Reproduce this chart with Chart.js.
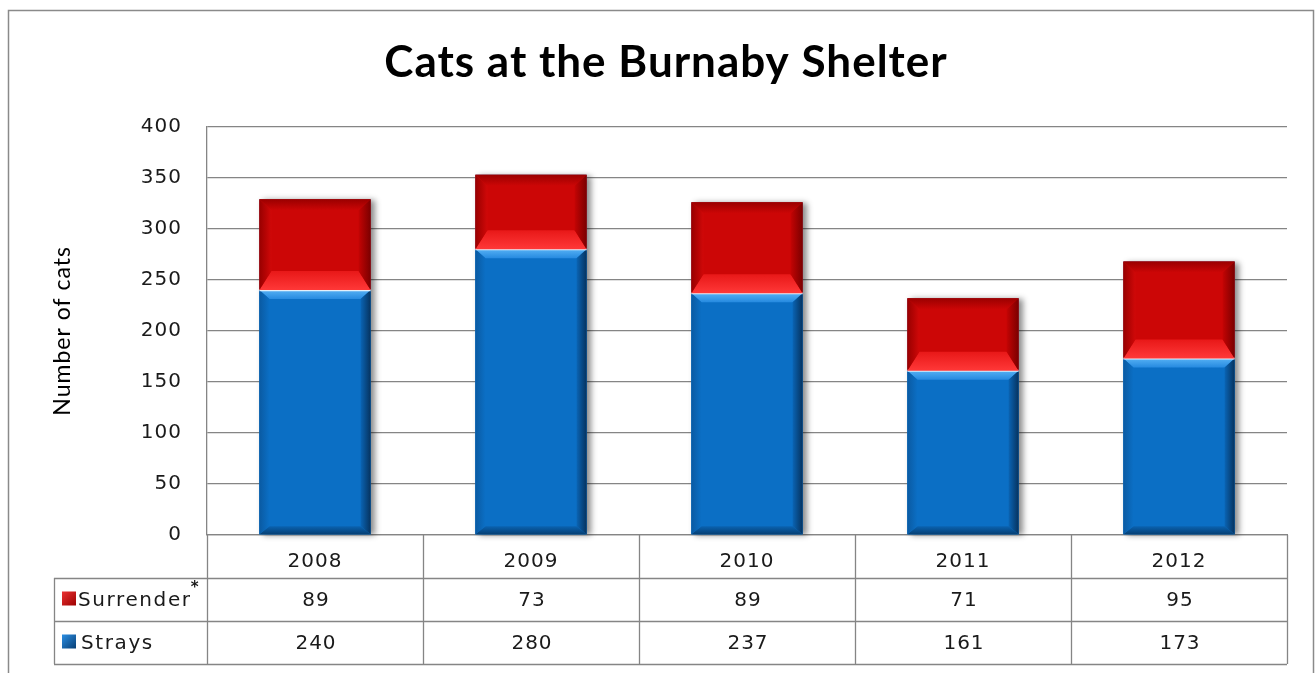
<!DOCTYPE html>
<html><head><meta charset="utf-8">
<script src="https://cdn.jsdelivr.net/npm/chart.js@4"></script>
<style>html,body{margin:0;padding:0;background:#fff;}#wrap{width:1316px;height:673px;position:relative;}</style>
</head><body><div id="wrap"><canvas id="c"></canvas></div>
<script>
const categories = ['2008', '2009', '2010', '2011', '2012'];
const strays = [240, 280, 237, 161, 173];
const surrender = [89, 73, 89, 71, 95];
const tableRows = ['Surrender', 'Strays'];
const titleText = 'Cats at the Burnaby Shelter';
const yTitle = 'Number of cats';
const yMin = 0, yMax = 400, yStep = 50;

const GRID = '#858585';
const ROW_H = 43;
const TABLE_LEFT = 54;
const SPACING = '1px';

function poly(ctx, pts, fill) {
  ctx.beginPath();
  ctx.moveTo(pts[0][0], pts[0][1]);
  for (let i = 1; i < pts.length; i++) ctx.lineTo(pts[i][0], pts[i][1]);
  ctx.closePath();
  ctx.fillStyle = fill;
  ctx.fill();
}
function lg(ctx, x0, y0, x1, y1, a, b) {
  const g = ctx.createLinearGradient(x0, y0, x1, y1);
  g.addColorStop(0, a); g.addColorStop(1, b);
  return g;
}
function bevel(ctx, l, t, r, b, c) {
  const w = r - l, h = b - t;
  const bs = Math.min(c.side, w / 3), bt = Math.min(c.top, h / 3), bb = Math.min(c.bottom, h / 3);
  poly(ctx, [[l, t], [r, t], [r - bs, t + bt], [l + bs, t + bt]], lg(ctx, 0, t, 0, t + bt, c.topO, c.topI));
  poly(ctx, [[l, b], [r, b], [r - bs, b - bb], [l + bs, b - bb]], lg(ctx, 0, b, 0, b - bb, c.botO, c.botI));
  poly(ctx, [[l, t], [l + bs, t + bt], [l + bs, b - bb], [l, b]], lg(ctx, l, 0, l + bs, 0, c.leftO, c.leftI));
  poly(ctx, [[r, t], [r - bs, t + bt], [r - bs, b - bb], [r, b]], lg(ctx, r, 0, r - bs, 0, c.rightO, c.rightI));
}
const redStyle = { side: 12, top: 11, bottom: 19,
  topO: '#9a0000', topI: '#cc0606', botO: '#ff3838', botI: '#e81818',
  leftO: '#980000', leftI: '#d00808', rightO: '#7a0000', rightI: '#c40404' };
const blueStyle = { side: 10, top: 9, bottom: 8,
  topO: '#55b0f4', topI: '#268ae0', botO: '#063f73', botI: '#0a62b0',
  leftO: '#0a5aa2', leftI: '#0b6fc5', rightO: '#06335f', rightI: '#0a64b4' };

const tablePlugin = {
  id: 'tablePlugin',
  beforeDraw(chart) {
    const ctx = chart.ctx;
    ctx.save();
    ctx.fillStyle = '#fff';
    ctx.fillRect(0, 0, chart.width, chart.height);
    ctx.strokeStyle = '#8a8a8a';
    ctx.lineWidth = 1.5;
    ctx.strokeRect(8.5, 10.5, 1305, 700);
    ctx.restore();
    ctx.letterSpacing = SPACING;
  },
  beforeDatasetsDraw(chart) {
    const ctx = chart.ctx;
    const m0 = chart.getDatasetMeta(0), m1 = chart.getDatasetMeta(1);
    ctx.save();
    ctx.shadowColor = 'rgba(0,0,0,0.45)';
    ctx.shadowBlur = 6;
    ctx.shadowOffsetX = 4;
    ctx.shadowOffsetY = 1;
    m0.data.forEach((el, i) => {
      const p = el.getProps(['x', 'y', 'base', 'width'], true);
      const top = m1.data[i].getProps(['y'], true).y;
      ctx.fillStyle = '#0b6fc5';
      ctx.fillRect(p.x - p.width / 2, top, p.width, p.base - top);
    });
    ctx.restore();
  },
  afterDatasetsDraw(chart) {
    const ctx = chart.ctx;
    ctx.save();
    [0, 1].forEach(di => {
      const meta = chart.getDatasetMeta(di);
      meta.data.forEach(el => {
        const p = el.getProps(['x', 'y', 'base', 'width'], true);
        const l = p.x - p.width / 2, r = p.x + p.width / 2;
        const t = Math.min(p.y, p.base), b = Math.max(p.y, p.base);
        bevel(ctx, l, t, r, b, di === 0 ? blueStyle : redStyle);
        if (di === 0) {
          ctx.strokeStyle = 'rgba(235,242,250,0.95)';
          ctx.lineWidth = 2.2;
          ctx.beginPath(); ctx.moveTo(l, t); ctx.lineTo(r, t); ctx.stroke();
        }
      });
    });
    ctx.restore();
  },
  afterDraw(chart) {
    const ctx = chart.ctx;
    const xs = chart.scales.x;
    const area = chart.chartArea;
    const bottom = area.bottom;
    const step = xs.getPixelForValue(1) - xs.getPixelForValue(0);
    const n = categories.length;
    const right = xs.getPixelForValue(n - 1) + step / 2;
    const left = xs.getPixelForValue(0) - step / 2;
    ctx.save();
    ctx.letterSpacing = SPACING;
    ctx.strokeStyle = GRID;
    ctx.lineWidth = 1.3;
    ctx.beginPath();
    for (let r = 1; r <= 3; r++) {
      const y = Math.round(bottom + ROW_H * r) + 0.5;
      ctx.moveTo(TABLE_LEFT, y);
      ctx.lineTo(right, y);
    }
    for (let i = 0; i <= n; i++) {
      const x = Math.round(left + step * i) + 0.5;
      ctx.moveTo(x, bottom);
      ctx.lineTo(x, bottom + ROW_H * 3);
    }
    ctx.moveTo(TABLE_LEFT + 0.5, bottom + ROW_H);
    ctx.lineTo(TABLE_LEFT + 0.5, bottom + ROW_H * 3);
    ctx.stroke();

    ctx.font = '20px "DejaVu Sans"';
    ctx.fillStyle = '#1a1a1a';
    ctx.textAlign = 'center';
    ctx.textBaseline = 'middle';
    const rowsData = [surrender, strays];
    rowsData.forEach((arr, r) => {
      const y = bottom + ROW_H * (r + 1) + ROW_H / 2 + 1;
      arr.forEach((v, i) => ctx.fillText(String(v), xs.getPixelForValue(i) + 1, y));
    });
    const keyStyles = [['#e83030', '#9a0000'], ['#2a8ce0', '#073c70']];
    tableRows.forEach((name, r) => {
      const cy = bottom + ROW_H * (r + 1) + ROW_H / 2;
      const kx = 62, ks = 14;
      ctx.fillStyle = lg(ctx, kx, cy - ks / 2, kx + ks, cy + ks / 2, keyStyles[r][0], keyStyles[r][1]);
      ctx.fillRect(kx, cy - ks / 2 - 1, ks, ks);
      ctx.fillStyle = '#1a1a1a';
      ctx.textAlign = 'left';
      ctx.font = '20px "DejaVu Sans"';
      ctx.letterSpacing = '1.6px';
      const tx = kx + ks + (r === 0 ? 2 : 5);
      ctx.fillText(name, tx, cy + 1);
      if (r === 0) {
        const w = ctx.measureText(name).width;
        ctx.font = 'bold 15px "DejaVu Sans"';
        ctx.fillText('*', tx + w - 1, cy - 11);
      }
    });
    ctx.restore();
  }
};

new Chart(document.getElementById('c'), {
  type: 'bar',
  data: {
    labels: categories,
    datasets: [
      { label: 'Strays', data: strays, backgroundColor: '#0b6fc5', borderWidth: 0 },
      { label: 'Surrender', data: surrender, backgroundColor: '#cc0606', borderWidth: 0 }
    ]
  },
  options: {
    responsive: true,
    maintainAspectRatio: false,
    animation: false,
    events: [],
    categoryPercentage: 1,
    barPercentage: 0.515,
    layout: { padding: { left: 45, right: 29, top: 0, bottom: ROW_H * 2 + 9 } },
    plugins: {
      legend: { display: false },
      tooltip: { enabled: false },
      title: {
        display: true, text: titleText, color: '#000',
        font: { family: 'Lato', size: 44, weight: 'bold' },
        padding: { top: 36, bottom: 38 }
      }
    },
    scales: {
      x: {
        stacked: true,
        grid: { display: false },
        border: { display: true, color: GRID, width: 1.3 },
        ticks: { color: '#1a1a1a', font: { family: 'DejaVu Sans', size: 20 }, padding: 7 },
        afterFit(s) { s.height = ROW_H; }
      },
      y: {
        stacked: true,
        min: yMin, max: yMax,
        grid: { color: GRID, lineWidth: 1.3, drawTicks: false },
        border: { display: true, color: GRID, width: 1.3 },
        ticks: { stepSize: yStep, color: '#1a1a1a', font: { family: 'DejaVu Sans', size: 20 }, padding: 25 },
        title: { display: true, text: yTitle, color: '#000', font: { family: 'Lato', size: 23 } },
        afterFit(s) { s.width = 162; }
      }
    }
  },
  plugins: [tablePlugin]
});
</script></body></html>
